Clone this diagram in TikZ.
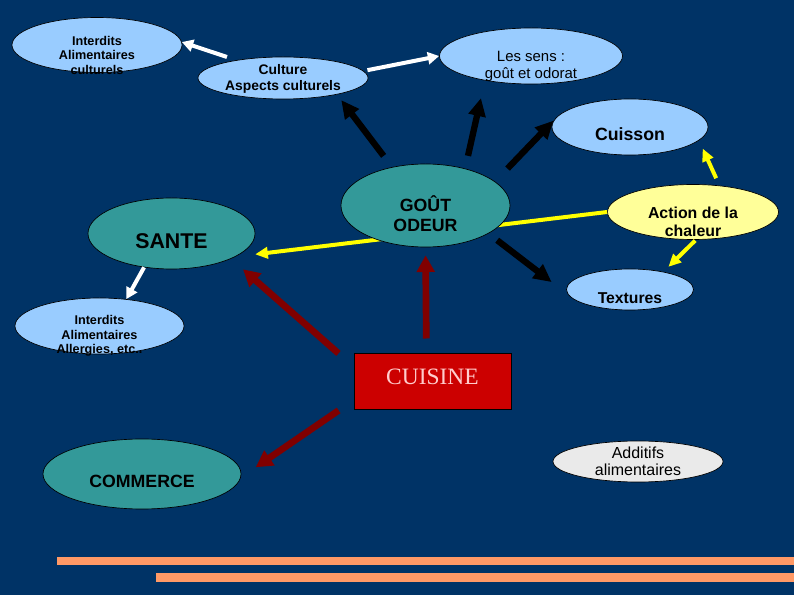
\documentclass[tikz,border=0pt]{standalone}
\usepackage{fontspec}
\setmainfont{Liberation Sans}
\newfontfamily\timesfont{Liberation Serif}
\usetikzlibrary{shapes.geometric,arrows.meta}

\definecolor{fondbleu}{RGB}{0,51,102}
\definecolor{bleuclair}{RGB}{153,204,255}
\definecolor{turquoise}{RGB}{51,153,153}
\definecolor{jaunepale}{RGB}{255,255,153}
\definecolor{grisclair}{RGB}{234,234,234}
\definecolor{rougecuisine}{RGB}{204,0,0}
\definecolor{bordeaux}{RGB}{128,0,0}
\definecolor{saumon}{RGB}{255,153,102}
\definecolor{roseclair}{RGB}{255,204,204}
\definecolor{jaunevif}{RGB}{255,255,0}

% text of a bubble, moved down by #1, not counted in the size
\newcommand{\bulletxt}[2]{\raisebox{\dimexpr-#1-.37em\relax}[0pt][0pt]{\begin{tabular}{@{}c@{}}#2\end{tabular}}}

\tikzset{every picture/.style={line width=0.75pt}}
\tikzset{
  bulle/.style={ellipse, draw=black, line width=0.5pt, inner sep=0pt, text=black},
  bleu/.style={bulle, fill=bleuclair},
  turq/.style={bulle, fill=turquoise},
  jaune/.style={bulle, fill=jaunepale},
  gris/.style={bulle, fill=grisclair},
  fleche blanche/.style={draw=white, line width=3pt, -{Triangle[length=8.5pt,width=9pt]}},
  fleche noire/.style={draw=black, line width=4.75pt, -{Triangle[length=13.5pt,width=12.5pt]}},
  fleche jaune/.style={draw=jaunevif, line width=3pt, -{Triangle[length=9.5pt,width=8.5pt]}},
  fleche rouge/.style={draw=bordeaux, line width=5pt, -{Triangle[length=12.5pt,width=13pt]}}
}

\begin{document}
\begin{tikzpicture}[x=0.75pt,y=0.75pt,yscale=-1,xscale=1]
\useasboundingbox (0,0) rectangle (794,595);

%Background
\fill[fondbleu] (0,0) rectangle (794,595);
%Bars
\fill[saumon] (57,557) rectangle (794,565);
\fill[saumon] (156,573) rectangle (794,582);

%Shape: Ellipse
\node[turq, minimum width=125.25pt, minimum height=53.25pt, font=\fontsize{16}{19}\selectfont\bfseries] (sante) at (171.5,233.5) {\bulletxt{6pt}{SANTE}};
%Shape: Ellipse
\node[jaune, minimum width=128.25pt, minimum height=41.25pt, font=\fontsize{11.9}{13.5}\selectfont\bfseries] (action) at (693,212) {\bulletxt{7.5pt}{Action de la\\chaleur}};

%Straight Lines (behind GOUT ODEUR)
\draw[fleche jaune, shorten >=15pt] (action.180) -- (sante.-20);

%Shape: Ellipse
\node[bleu, minimum width=127.5pt, minimum height=41.25pt, font=\fontsize{9.5}{10.9}\selectfont\bfseries] (icult) at (97,45) {\bulletxt{7.5pt}{Interdits\\Alimentaires\\culturels}};
%Shape: Ellipse
\node[bleu, minimum width=127.5pt, minimum height=31.5pt, font=\fontsize{10.4}{12}\selectfont\bfseries] (culture) at (283,78) {\bulletxt{0pt}{Culture\\Aspects culturels}};
%Shape: Ellipse
\node[bleu, minimum width=137.25pt, minimum height=42pt, font=\fontsize{11.2}{12.75}\selectfont] (sens) at (531,56) {\bulletxt{6.4pt}{Les sens :\\goût et odorat}};
%Shape: Ellipse
\node[bleu, minimum width=117pt, minimum height=42pt, font=\fontsize{13.3}{15.5}\selectfont\bfseries] (cuisson) at (630,127) {\bulletxt{6pt}{Cuisson}};
%Shape: Ellipse
\node[turq, minimum width=126.75pt, minimum height=62.25pt, font=\fontsize{13.3}{15.5}\selectfont\bfseries] (gout) at (425.5,205.5) {\bulletxt{7.1pt}{GOÛT\\ODEUR}};
%Shape: Ellipse
\node[bleu, minimum width=95.25pt, minimum height=30.75pt, font=\fontsize{11.8}{13.5}\selectfont\bfseries] (textures) at (630,289.5) {\bulletxt{6.4pt}{Textures}};
%Shape: Ellipse
\node[bleu, minimum width=126.75pt, minimum height=42pt, font=\fontsize{9.5}{10.9}\selectfont\bfseries] (iallerg) at (99.5,326) {\bulletxt{6.4pt}{Interdits\\Alimentaires\\Allergies, etc..}};
%Shape: Ellipse
\node[turq, minimum width=148.5pt, minimum height=52.5pt, font=\fontsize{13.3}{15.5}\selectfont\bfseries] (commerce) at (142,474) {\bulletxt{6pt}{COMMERCE}};
%Shape: Ellipse
\node[gris, minimum width=127.5pt, minimum height=30.75pt, font=\fontsize{12}{12.75}\selectfont] (additifs) at (638,461.5) {\bulletxt{0pt}{Additifs\\alimentaires}};
%Shape: Rectangle
\node[rectangle, draw=black, line width=0.75pt, fill=rougecuisine, inner sep=0pt, minimum width=117.75pt, minimum height=42pt, text=roseclair, font=\timesfont\fontsize{17.6}{20}\selectfont] (cuisine) at (432.5,382) {\bulletxt{-4.5pt}{CUISINE}};

%Straight Lines
\draw[fleche blanche, shorten <=7.5pt] (culture.159) -- (icult.2);
\draw[fleche blanche, shorten <=3pt] (culture.5) -- (sens.180);
\draw[fleche blanche] (sante.231) -- (iallerg.45);

\draw[fleche noire, shorten <=10.5pt, shorten >=5.25pt] (gout.131) -- (culture.-17);
\draw[fleche noire, shorten <=9.75pt, shorten >=13.5pt] (gout.43) -- (sens.208);
\draw[fleche noire, shorten <=13.5pt, shorten >=5.25pt] (gout.19) -- (cuisson.171);
\draw[fleche noire, shorten <=8.25pt, shorten >=15.75pt] (gout.-24) -- (textures.185);

\draw[fleche jaune, shorten <=6pt, shorten >=6.75pt] (action.45) -- (cuisson.-11);
\draw[fleche jaune, shorten <=0.75pt, shorten >=5.25pt] (action.-84) -- (textures.28);

\draw[fleche rouge, shorten <=15pt, shorten >=12pt] (cuisine.169) -- (sante.-23);
\draw[fleche rouge, shorten <=11.25pt, shorten >=6pt] (cuisine.102) -- (gout.-90);
\draw[fleche rouge, shorten <=13.5pt, shorten >=13.5pt] (cuisine.193) -- (commerce.-2);

\end{tikzpicture}
\end{document}
